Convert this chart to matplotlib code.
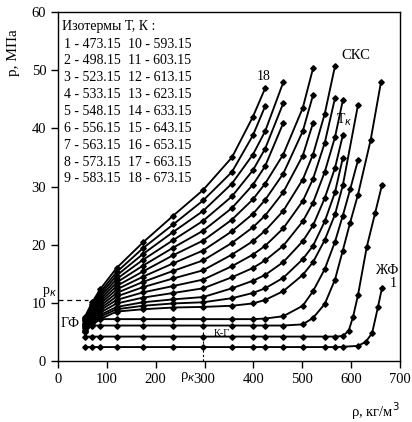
import matplotlib
matplotlib.use("Agg")
import matplotlib.pyplot as plt

plt.rcParams['font.family'] = ['Liberation Serif', 'DejaVu Serif']

# isotherm temperatures, K (legend)
temps = [473.15, 498.15, 523.15, 533.15, 548.15, 556.15, 563.15, 573.15, 583.15,
         593.15, 603.15, 613.15, 623.15, 633.15, 643.15, 653.15, 663.15, 673.15]

r1 = [55, 70, 86, 120, 174, 236, 297, 356, 399, 424, 461, 501, 546, 567, 583, 614, 630, 643, 655, 663]
p1 = [2.4, 2.4, 2.4, 2.4, 2.4, 2.4, 2.4, 2.4, 2.4, 2.4, 2.4, 2.4, 2.4, 2.4, 2.45, 2.6, 3.3, 4.8, 9.3, 12.5]
r2 = [55, 70, 86, 120, 174, 236, 297, 356, 399, 424, 461, 501, 546, 567, 583, 595, 604, 614, 632, 649, 663]
p2 = [4.2, 4.2, 4.2, 4.2, 4.2, 4.2, 4.2, 4.2, 4.2, 4.2, 4.2, 4.2, 4.2, 4.2, 4.3, 5.2, 7.6, 11.3, 19.6, 25.4, 30.2]
r3 = [60, 70, 86, 120, 174, 236, 297, 356, 399, 424, 461, 501, 522, 546, 567, 583, 598, 614, 640, 661]
p3 = [6.1, 6.1, 6.1, 6.1, 6.1, 6.1, 6.1, 6.1, 6.1, 6.1, 6.1, 6.3, 7.4, 9.8, 14.0, 19.0, 23.8, 28.6, 38.0, 47.9]
r4 = [60, 70, 86, 120, 174, 236, 297, 356, 399, 424, 461, 501, 522, 546, 567, 583, 598, 614]
p4 = [7.2, 7.2, 7.2, 7.2, 7.2, 7.2, 7.2, 7.2, 7.2, 7.3, 7.7, 9.5, 12.0, 15.8, 20.5, 25.0, 29.5, 34.5]
r5 = [55, 70, 86, 120, 174, 236, 297, 356, 399, 424, 461, 501, 522, 546, 567, 583, 614]
p5 = [5.0, 6.2, 7.2, 8.5, 8.9, 9.2, 9.3, 9.5, 9.9, 10.5, 12.0, 14.8, 17.0, 20.8, 25.2, 30.2, 44.0]
r6 = [55, 70, 86, 120, 174, 236, 297, 356, 399, 424, 461, 501, 522, 546, 567, 583]
p6 = [5.2, 6.5, 7.6, 8.9, 9.5, 9.9, 10.1, 10.8, 11.7, 12.5, 14.3, 17.5, 19.8, 24.0, 29.0, 34.9]
r7 = [55, 70, 86, 120, 174, 236, 297, 356, 399, 424, 461, 501, 522, 546, 567, 583]
p7 = [5.4, 6.8, 7.9, 9.3, 10.1, 10.6, 11.0, 12.5, 13.8, 14.8, 17.0, 20.6, 23.3, 28.0, 33.2, 38.8]
r8 = [55, 70, 86, 120, 174, 236, 297, 356, 399, 424, 461, 501, 522, 546, 567, 583]
p8 = [5.6, 7.1, 8.3, 9.9, 10.9, 11.7, 12.5, 14.4, 16.0, 17.3, 19.8, 24.0, 27.2, 32.5, 38.5, 44.8]
r9 = [55, 70, 86, 120, 174, 236, 297, 356, 399, 424, 461, 501, 522, 546, 567]
p9 = [5.8, 7.4, 8.7, 10.5, 11.8, 12.9, 14.0, 16.3, 18.3, 19.8, 22.8, 27.5, 31.3, 37.5, 45.2]
r10 = [55, 70, 86, 120, 174, 236, 297, 356, 399, 424, 461, 501, 522, 546, 567]
p10 = [6.0, 7.7, 9.0, 11.1, 12.7, 14.2, 15.6, 18.3, 20.6, 22.4, 25.8, 31.2, 35.5, 42.5, 50.7]
r11 = [55, 70, 86, 120, 174, 236, 297, 356, 399, 424, 461, 501, 522]
p11 = [6.2, 8.0, 9.4, 11.7, 13.6, 15.5, 17.3, 20.3, 23.0, 25.0, 29.0, 35.3, 40.9]
r12 = [55, 70, 86, 120, 174, 236, 297, 356, 399, 424, 461, 501, 522]
p12 = [6.4, 8.3, 9.8, 12.3, 14.5, 16.8, 19.0, 22.3, 25.3, 27.7, 32.2, 39.5, 45.7]
r13 = [55, 70, 86, 120, 174, 236, 297, 356, 399, 424, 461, 501, 522]
p13 = [6.6, 8.6, 10.2, 12.9, 15.4, 18.2, 20.7, 24.3, 27.8, 30.5, 35.5, 43.5, 50.3]
r14 = [55, 70, 86, 120, 174, 236, 297, 356, 399, 424, 461]
p14 = [6.8, 8.9, 10.6, 13.5, 16.4, 19.5, 22.4, 26.3, 30.3, 33.5, 40.9]
r15 = [55, 70, 86, 120, 174, 236, 297, 356, 399, 424, 461]
p15 = [7.0, 9.2, 11.0, 14.1, 17.4, 20.8, 24.1, 28.3, 32.8, 36.5, 44.3]
r16 = [55, 70, 86, 120, 174, 236, 297, 356, 399, 424, 461]
p16 = [7.2, 9.5, 11.4, 14.7, 18.4, 22.2, 25.8, 30.5, 35.5, 39.5, 47.9]
r17 = [55, 70, 86, 120, 174, 236, 297, 356, 399, 424]
p17 = [7.4, 9.8, 11.8, 15.3, 19.4, 23.5, 27.6, 32.5, 38.8, 43.8]
r18 = [55, 70, 86, 120, 174, 236, 297, 356, 399, 424]
p18 = [7.6, 10.1, 12.3, 16.0, 20.4, 25.0, 29.4, 35.0, 42.0, 46.9]

rho_all = [r1, r2, r3, r4, r5, r6, r7, r8, r9, r10, r11, r12, r13, r14, r15, r16, r17, r18]
p_all = [p1, p2, p3, p4, p5, p6, p7, p8, p9, p10, p11, p12, p13, p14, p15, p16, p17, p18]

# critical point
rho_k = 297
p_k = 10.5

fig = plt.figure(figsize=(4.12, 4.22), dpi=100)
ax = fig.add_axes([0.1408, 0.1445, 0.830, 0.827])

for r, p in zip(rho_all, p_all):
    ax.plot(r, p, color='black', lw=1.35, marker='D', ms=2.8, mfc='black', mec='black')

# dashed lines to the critical point
ax.plot([0, 62], [p_k, p_k], color='black', lw=0.9, ls=(0, (4, 3)))
ax.plot([rho_k, rho_k], [0, 5], color='black', lw=0.8, ls=(0, (2, 2)))

ax.set_xlim(0, 700)
ax.set_ylim(0, 60)
ax.set_xticks(range(0, 701, 100))
ax.set_yticks(range(0, 61, 10))
ax.tick_params(direction='out', length=5, width=1, labelsize=10.5)
for s in ax.spines.values():
    s.set_linewidth(1.0)

# legend block with temperatures
ax.text(8, 57.5, 'Изотермы Т, К :', fontsize=10, va='center', ha='left')
for i in range(9):
    y = 54.5 - i * 2.9
    ax.text(12, y, f'{i + 1} - {temps[i]:.2f}', fontsize=10, va='center', ha='left')
    ax.text(143, y, f'{i + 10} - {temps[i + 9]:.2f}', fontsize=10, va='center', ha='left')

# labels inside the plot
ax.text(610, 52.5, 'СКС', fontsize=10.5, ha='center', va='center')
ax.text(420, 49.0, '18', fontsize=10, ha='center', va='center')
ax.text(585, 41.5, 'Т$_к$', fontsize=10, ha='center', va='center')
ax.text(672, 15.5, 'ЖФ', fontsize=10, ha='center', va='center')
ax.text(686, 13.4, '1', fontsize=10, ha='center', va='center')
ax.text(5, 6.5, 'ГФ', fontsize=10, ha='left', va='center')
ax.text(335, 4.8, 'К-Г', fontsize=7.5, ha='center', va='center')
ax.text(-3, 11.8, 'p$_к$', fontsize=10, ha='right', va='center')
ax.text(265, -2.8, 'ρ$_к$', fontsize=10.5, ha='center', va='center')

ax.text(-92, 57, 'p, МПа', fontsize=11, rotation=90, ha='center', va='top')
ax.text(700, -8.7, 'ρ, кг/м$^3$', fontsize=10.5, ha='right', va='center')

fig.savefig('out.png', dpi=100)
